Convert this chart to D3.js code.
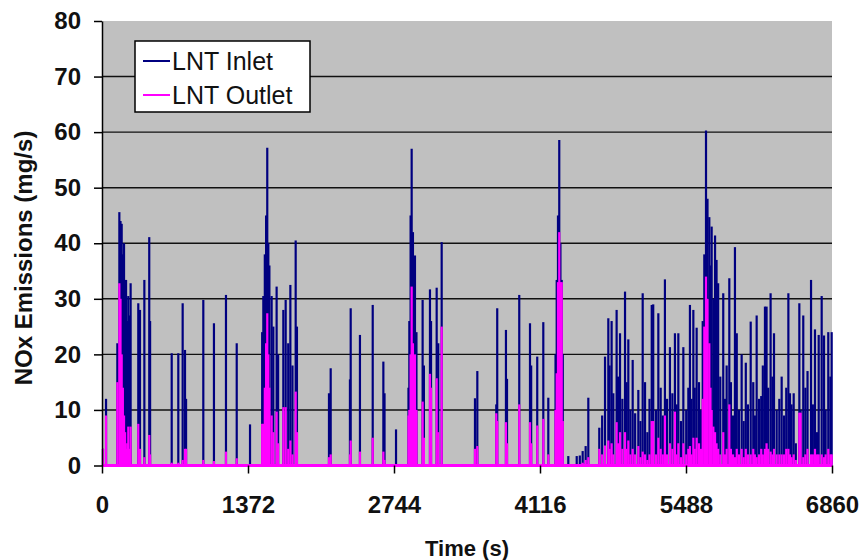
<!DOCTYPE html>
<html><head><meta charset="utf-8">
<script src="https://cdn.jsdelivr.net/npm/d3@7"></script>
<style>
html,body{margin:0;padding:0;background:#fff;}
svg{display:block;font-family:"Liberation Sans",Arial,sans-serif;}
</style></head><body>
<svg id="chart" width="862" height="560"></svg>
<script>
// NOx emission peaks over the drive cycle (time in s, emissions in mg/s)
const timeSec = [
  9,38,144,163,174,185,196,207,217,226,237,247,258,269,341,357,398,444,452,655,717,758,780,790,952,1052,1165,1266,1391,
  1505,1516,1530,1542,1553,1563,1573,1594,1610,1641,1655,1704,1726,1750,1770,1790,1820,1832,2133,2149,2330,2337,2424,2544,2644,2655,
  2763,2880,2888,2900,2910,2922,2941,2955,3013,3025,3082,3092,3145,3160,3192,3505,3527,3705,3714,3796,3806,3921,4022,4033,4090,4147,4194,
  4262,4273,4285,4297,4308,4320,4330,4382,4461,4490,4517,4545,4570,4673,4700,4727,4758,4770,4789,4805,4836,4850,4868,4890,4915,4930,4946,4965,4987,
  5010,5040,5060,5081,5103,5125,5145,5166,5180,5205,5228,5250,5270,5290,5310,5337,5360,5384,5400,5416,5440,5463,5490,
  5510,5525,5540,5557,5570,5588,5610,5630,5645,5660,5676,5690,5707,5718,5729,5745,5761,5775,5790,5810,5838,5855,5870,5895,5910,5930,5948,5965,5985,
  6011,6030,6050,6070,6096,6120,6135,6152,6175,6195,6210,6230,6245,6260,6283,6300,6315,6340,6365,6387,6410,6430,6450,6465,6480,6500,6520,
  6553,6565,6590,6610,6630,6663,6680,6700,6720,6735,6763,6785,6800,6825,6845,6857
];
const inletNOx = [
  3,12,22,45.6,44,43.5,38,40,30,33.4,26,30.5,27,32.8,29.2,28,33.4,41.1,26,20.2,20.2,29.2,20.8,12,29.8,25.6,30.7,22,7.4,
  24,30.5,38,45,57.2,40,36,30.5,25,32.2,20,28,29.8,22,32.5,18,40.5,25,13,17.5,15.5,28.3,23.5,28.9,18.7,13,
  6.5,14,26,45,57,42,37.8,24,29.8,18,31.7,26,32,22,40.2,12.1,17,11,28.3,24.4,15.6,30.7,25.6,18,19.6,25.8,12.2,
  20,33.4,45,58.6,40,33.4,20,1.7,1.7,1.8,2.6,3.5,12.2,6.8,9,19.6,26.5,18,26,13,28,16,23.8,12,31.3,15,22.7,10,19,
  9.4,13.6,8,31,15,6,12,28.9,29,10,27.4,14,9,33.5,12,21.3,13,23.8,11,23.8,8,21.3,10,
  14,28.9,12,28,14,24.8,15,10,26,38,60.3,48,44.7,36,43,30,41.4,37,32.8,16,31,12,18,33.7,15,9,39.3,23.8,10,
  20,8,18.5,11,25.9,15,9,27,12,12.5,18,28.6,28.6,14,31,16,23.8,10,12,16,9,14,31,13,11,13,4,
  29.2,10,27,14,17,33.4,11,24.5,6,23.5,30.5,23.4,10,24,16,24
];
const outletNOx = [
  3,9,15,32.8,30,20,14,9,6,3,4,7,3,7,7.5,3,1.5,5.5,2,0.5,0.5,1,3,3,1,0.8,2.5,1.3,0,
  7.5,7.5,14,22,27.4,20,14,9,6,9.7,4,10.5,10.5,3,4.5,2,13.3,6,1.5,2,2,4.5,2.5,5,2.5,1,
  0,9,10,20,32.2,22,20,10,11.5,5,16.5,14,15.7,6,25,3,3.5,9.4,8,7.8,4,11,7.8,4,7.2,8.4,2,
  10,16.6,33,42,33,33,8,0,0,0,0.5,1,1.5,3,2,3.6,4.5,3,4,2,7.8,4,6,3,6,3,4.5,2,3,
  2,3.5,1.5,2.5,2,1,2,8,8,2,5,3,2,9,2,4,3,9.7,2,4,1.5,4,2,
  3,3.5,2,5,3,5,4,3,12,25,34,30,22,14,10,7,6,4,3,2,6,2,3,11,3,2,1.5,3,2,
  3,1.5,3,2,2,3,2,1.5,2,3,2,3,4,3,2.5,2,3,2,2,2,2,3,3,2,1.5,2,1,
  9.5,9.5,1.5,2,3,2,2,3,2,2,2,1.5,2,3,2,2
];

const xTickValues = [0, 1372, 2744, 4116, 5488, 6860];
const yTickValues = [0, 10, 20, 30, 40, 50, 60, 70, 80];
const seriesNames = ["LNT Inlet", "LNT Outlet"];
const seriesColors = ["#000080", "#ff00ff"];
const xTitle = "Time (s)";
const yTitle = "NOx Emissions (mg/s)";

const svg = d3.select("#chart");
const x = d3.scaleLinear().domain([0, 6860]).range([102, 832]);
const y = d3.scaleLinear().domain([0, 80]).range([465.5, 21]);

const records = timeSec.map((t, i) => ({t, inlet: inletNOx[i], outlet: outletNOx[i]}));

// plot area
svg.append("rect")
  .attr("x", x(0)).attr("y", y(80))
  .attr("width", x(6860) - x(0)).attr("height", y(0) - y(80))
  .attr("fill", "#c0c0c0");

// horizontal gridlines
svg.append("g").selectAll("line")
  .data(yTickValues.filter(v => v > 0 && v < 80))
  .join("line")
  .attr("x1", x(0)).attr("x2", x(6860))
  .attr("y1", d => y(d)).attr("y2", d => y(d))
  .attr("stroke", "#111").attr("stroke-width", 1.4);

// inlet emissions
svg.append("g").selectAll("line")
  .data(records)
  .join("line")
  .attr("x1", d => x(d.t)).attr("x2", d => x(d.t))
  .attr("y1", y(0)).attr("y2", d => y(d.inlet))
  .attr("stroke", seriesColors[0]).attr("stroke-width", 2.2);

// outlet emissions
svg.append("g").selectAll("line")
  .data(records.filter(d => d.outlet > 0))
  .join("line")
  .attr("x1", d => x(d.t)).attr("x2", d => x(d.t))
  .attr("y1", y(0)).attr("y2", d => y(d.outlet))
  .attr("stroke", seriesColors[1]).attr("stroke-width", 2.2);

// outlet resting level along zero
svg.append("line")
  .attr("x1", x(0)).attr("x2", x(6860))
  .attr("y1", y(0)).attr("y2", y(0))
  .attr("stroke", seriesColors[1]).attr("stroke-width", 3);

// axes
const yAxis = svg.append("g")
  .attr("transform", `translate(${x(0)},0)`)
  .call(d3.axisLeft(y).tickValues(yTickValues).tickSize(8).tickPadding(13).tickSizeOuter(0));
const xAxis = svg.append("g")
  .attr("transform", `translate(0,${y(0)})`)
  .call(d3.axisBottom(x).tickValues(xTickValues).tickSize(8).tickPadding(22).tickSizeOuter(0).tickFormat(d3.format("d")));
xAxis.select(".domain").remove();
[yAxis, xAxis].forEach(g => {
  g.selectAll("line").attr("stroke", "#000").attr("stroke-width", 1.5);
  g.selectAll(".domain").attr("stroke", "#000").attr("stroke-width", 1.5);
  g.selectAll("text").attr("fill", "#111").attr("font-size", 24).attr("font-weight", "bold")
    .attr("font-family", '"Liberation Sans", Arial, sans-serif');
});

// axis titles
svg.append("text")
  .attr("x", x(3430)).attr("y", 556)
  .attr("text-anchor", "middle")
  .attr("font-size", 22).attr("font-weight", "bold").attr("fill", "#111")
  .text(xTitle);
svg.append("text")
  .attr("transform", `translate(32,258) rotate(-90)`)
  .attr("text-anchor", "middle")
  .attr("font-size", 24).attr("font-weight", "bold").attr("fill", "#111")
  .text(yTitle);

// legend
const legend = svg.append("g").attr("transform", "translate(135,41)");
legend.append("rect")
  .attr("width", 175).attr("height", 71)
  .attr("fill", "#fff").attr("stroke", "#000").attr("stroke-width", 1.5);
seriesNames.forEach((name, i) => {
  const row = legend.append("g").attr("transform", `translate(0,${20 + i * 34})`);
  row.append("line").attr("x1", 8).attr("x2", 35).attr("y1", 0).attr("y2", 0)
    .attr("stroke", seriesColors[i]).attr("stroke-width", 2);
  row.append("text").attr("x", 37).attr("y", 9)
    .attr("font-size", 25).attr("fill", "#111").text(name);
});
</script>
</body></html>
